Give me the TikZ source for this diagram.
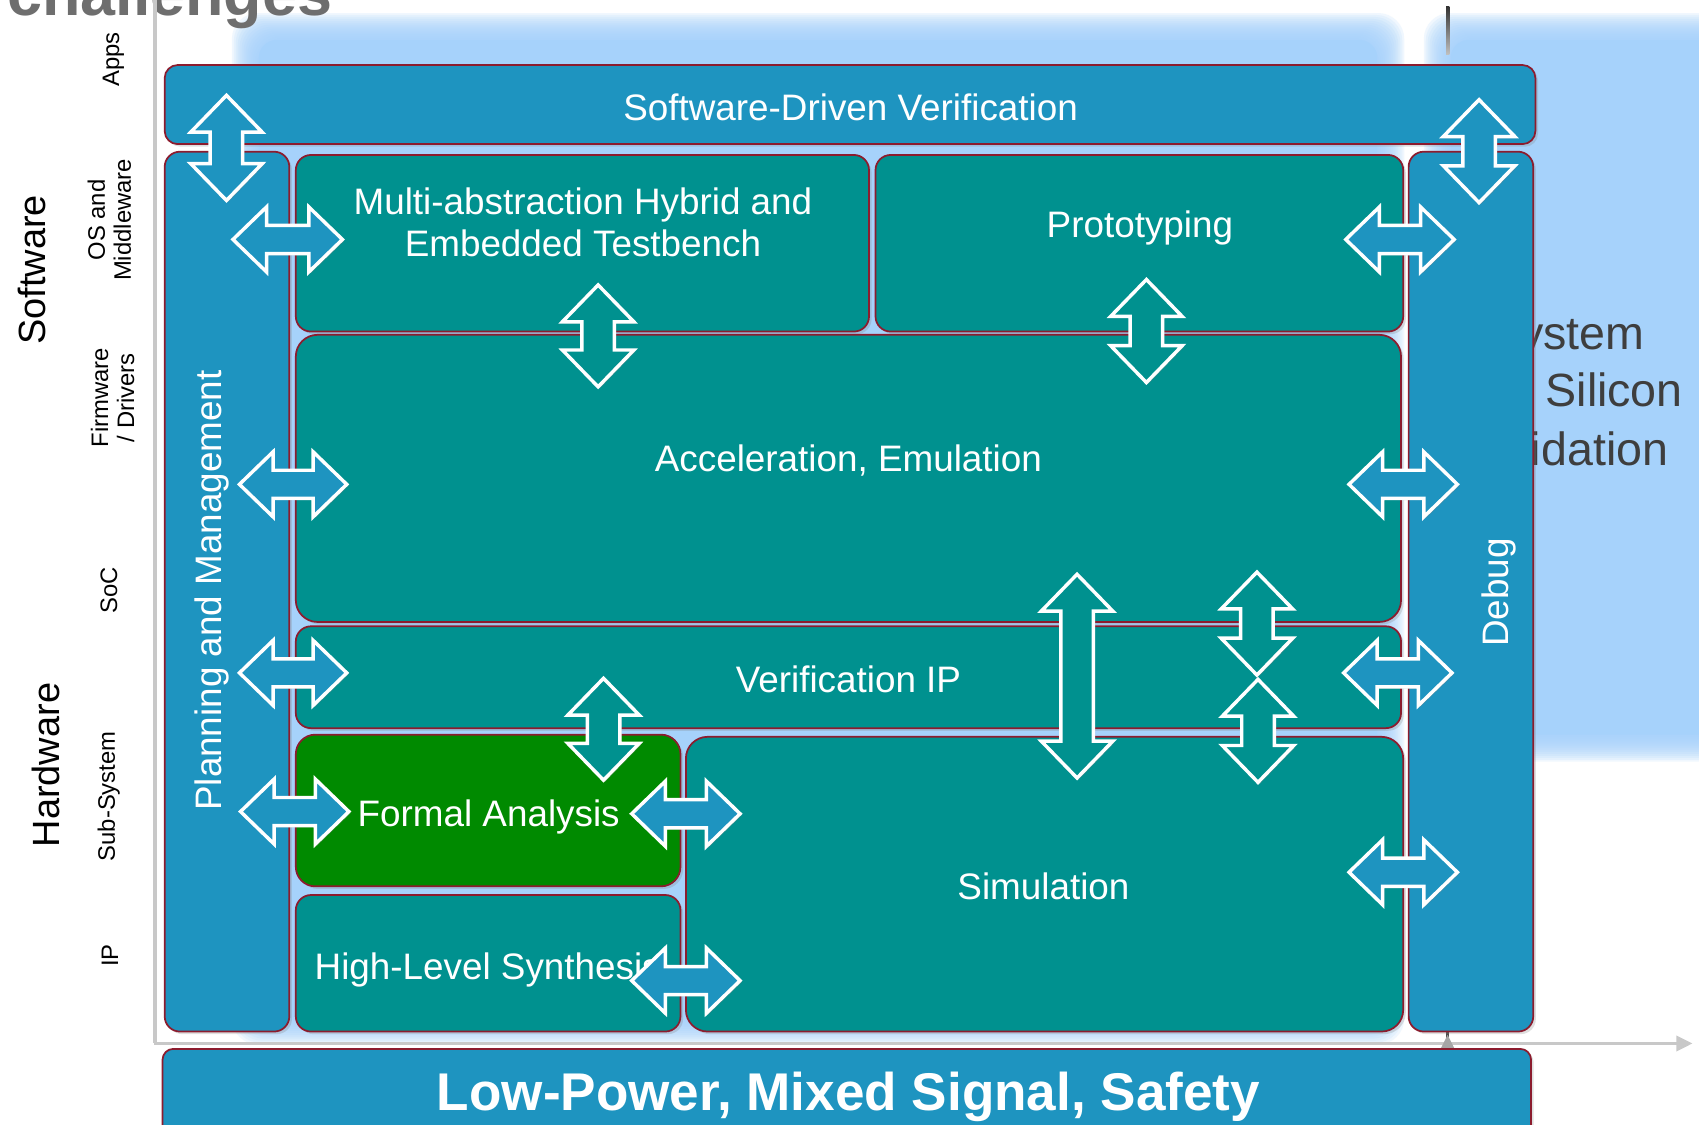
\documentclass[tikz,border=0pt]{standalone}
\usepackage{fontspec}
\setmainfont{Liberation Sans}
\usetikzlibrary{fit,shadows,arrows.meta}

\definecolor{boxblue}{RGB}{30,148,192}
\definecolor{boxteal}{RGB}{0,145,143}
\definecolor{boxgreen}{RGB}{0,138,0}
\definecolor{boxedge}{RGB}{140,28,46}
\definecolor{lightbg}{RGB}{166,210,251}
\definecolor{axisgray}{RGB}{200,200,200}
\definecolor{titlegray}{RGB}{110,110,110}
\definecolor{sidegray}{RGB}{62,62,62}

% vertical double block arrow: x, top tip y, bottom tip y, fill colour
\newcommand\varr[4]{%
  \filldraw[blockarrow, fill=#4] (#1,#2) -- ++(33,34) -- ++(-18,0) -- ++(0,#3-#2-68)
    -- ++(18,0) -- ++(-33,34) -- ++(-33,-34) -- ++(18,0) -- ++(0,-#3+#2+68)
    -- ++(-18,0) -- cycle;}
% horizontal double block arrow: left tip x, right tip x, y, fill colour
\newcommand\harr[4]{%
  \filldraw[blockarrow, fill=#4] (#1,#3) -- ++(31,-30) -- ++(0,17) -- ++(#2-#1-62,0)
    -- ++(0,-17) -- ++(31,30) -- ++(-31,30) -- ++(0,-17) -- ++(-#2+#1+62,0)
    -- ++(0,17) -- cycle;}

\begin{document}
\begin{tikzpicture}[x=0.5pt,y=-0.5pt,
  box/.style={draw=boxedge, line width=0.8pt, rounded corners=7pt, inner sep=0pt,
    drop shadow={opacity=0.25, shadow xshift=1.2pt, shadow yshift=-1.2pt}},
  bluebox/.style={box, fill=boxblue},
  tealbox/.style={box, fill=boxteal},
  greenbox/.style={box, fill=boxgreen},
  blockarrow/.style={draw=white, line width=1.6pt, line join=miter,
    drop shadow={opacity=0.35, shadow xshift=0.8pt, shadow yshift=-0.8pt}},
  lbl/.style={text=white, inner sep=0pt, font=\fontsize{17pt}{19.5pt}\selectfont},
  side/.style={text=black, inner sep=0pt, rotate=90, align=center,
    font=\fontsize{11pt}{12pt}\selectfont},
  bigside/.style={text=black, inner sep=0pt, rotate=90, anchor=base,
    font=\fontsize{17.5pt}{20pt}\selectfont},
  phase/.style={text=sidegray, inner sep=0pt, font=\fontsize{21.5pt}{26pt}\selectfont}]

\useasboundingbox (0,0) rectangle (1568,1038);
\clip (0,0) rectangle (1568,1038);
\fill[white] (0,0) rectangle (1568,1038);

% soft light-blue backdrops with feathered edges
\foreach \i in {0,...,13}
  \fill[lightbg, opacity=0.16, rounded corners=12pt]
    (214+\i*1.8,12+\i*1.8) rectangle (1296-\i*1.8,964-\i*1.8);
\fill[lightbg, rounded corners=8pt] (239,37) rectangle (1271,939);
\foreach \i in {0,...,13}
  \fill[lightbg, opacity=0.16, rounded corners=12pt]
    (1314+\i*1.8,12+\i*1.8) rectangle (1640-\i*1.8,703-\i*1.8);
\fill[lightbg, rounded corners=8pt] (1339,37) rectangle (1615,678);

% heading
\node[anchor=base east, inner sep=0pt, text=titlegray,
  font=\fontsize{29pt}{34pt}\selectfont\bfseries] (title) at (307,14) {challenges};

% axes
\draw[axisgray, line width=1.5pt] (143,0) -- (143,963);
\draw[axisgray, line width=1.5pt, -{Triangle[length=7.5pt,width=7pt]}] (142.25,963) -- (1562,963);
\shade[top color=black!80, bottom color=black!25] (1334.5,6) rectangle (1337.5,50);
\fill[black!70] (1334.5,952) rectangle (1337.5,960);
\fill[black!35] (1329,969) -- (1336,955) -- (1343,969) -- cycle;

% phase text on the right
\node[phase, anchor=base east] (ph1) at (1518,323) {ystem};
\node[phase, anchor=base west] (ph2) at (1426,375) {Silicon};
\node[phase, anchor=base east] (ph3) at (1540,430) {idation};

% level labels
\node[bigside] (sw) at (42,249) {Software};
\node[bigside] (hw) at (55,706) {Hardware};
\node[side, anchor=base] (lv1) at (110,55) {Apps};
\node[side] (lv2) at (101,203) {OS and\\Middleware};
\node[side] (lv3) at (104,367) {Firmware\\/ Drivers};
\node[side, anchor=base] (lv4) at (108,545) {SoC};
\node[side, anchor=base] (lv5) at (106,735) {Sub-System};
\node[side, anchor=base] (lv6) at (109,882) {IP};

% boxes
\node[bluebox, rounded corners=6pt, fit={(152,60)(1417,133)}] (sdv) {};
\node[bluebox, fit={(152,140)(267,952)}] (plan) {};
\node[bluebox, fit={(1300,140)(1415,952)}] (debug) {};
\node[tealbox, fit={(273,143)(802,306)}] (multi) {};
\node[tealbox, fit={(808,143)(1295,306)}] (proto) {};
\node[tealbox, rounded corners=10pt, fit={(273,309)(1293,574)}] (accel) {};
\node[tealbox, fit={(273,578)(1293,672)}] (vip) {};
\node[greenbox, rounded corners=9pt, fit={(273,678)(628,818)}] (formal) {};
\node[tealbox, fit={(273,826)(628,952)}] (hls) {};
\node[tealbox, rounded corners=10pt, fit={(633,680)(1295,952)}] (sim) {};
\node[bluebox, rounded corners=5pt, fit={(150,968)(1413,1070)}] (lowp) {};

% box texts
\node[lbl, anchor=base] (sdv-t) at (785,111) {Software-Driven Verification};
\node[lbl, rotate=90, anchor=base] (plan-t) at (204,545) {Planning and Management};
\node[lbl, rotate=90, anchor=base] (debug-t) at (1392,547) {Debug};
\node[lbl, align=center] (multi-t) at (538,205) {Multi-abstraction Hybrid and\\Embedded Testbench};
\node[lbl, anchor=base] (proto-t) at (1052,219) {Prototyping};
\node[lbl, anchor=base] (accel-t) at (783,435) {Acceleration, Emulation};
\node[lbl, anchor=base] (vip-t) at (783,639) {Verification IP};
\node[lbl, anchor=base] (formal-t) at (451,763) {Formal Analysis};
\node[lbl, anchor=base west] (hls-t) at (290,904) {High-Level Synthesis};
\node[lbl, anchor=base] (sim-t) at (963,830) {Simulation};
\node[text=white, inner sep=0pt, anchor=base,
  font=\fontsize{24.5pt}{28pt}\selectfont\bfseries] (lowp-t) at (783,1025)
  {Low-Power, Mixed Signal, Safety};

% block arrows
\varr{209}{88}{185}{boxblue}
\varr{1365}{92}{187}{boxblue}
\harr{215}{316}{221}{boxblue}
\harr{1242}{1342}{221}{boxblue}
\varr{552}{263}{357}{boxteal}
\varr{1058}{258}{353}{boxteal}
\harr{221}{320}{447}{boxblue}
\harr{1245}{1345}{447}{boxblue}
\varr{994}{530}{718}{boxteal}
\varr{1160}{528}{623}{boxteal}
\varr{1161}{627}{722}{boxteal}
\harr{221}{320}{621}{boxblue}
\harr{1240}{1340}{621}{boxblue}
\varr{557}{626}{720}{boxteal}
\harr{222}{322}{749}{boxblue}
\harr{583}{683}{751}{boxblue}
\harr{1245}{1345}{805}{boxblue}
\harr{583}{683}{905}{boxblue}

\end{tikzpicture}
\end{document}
